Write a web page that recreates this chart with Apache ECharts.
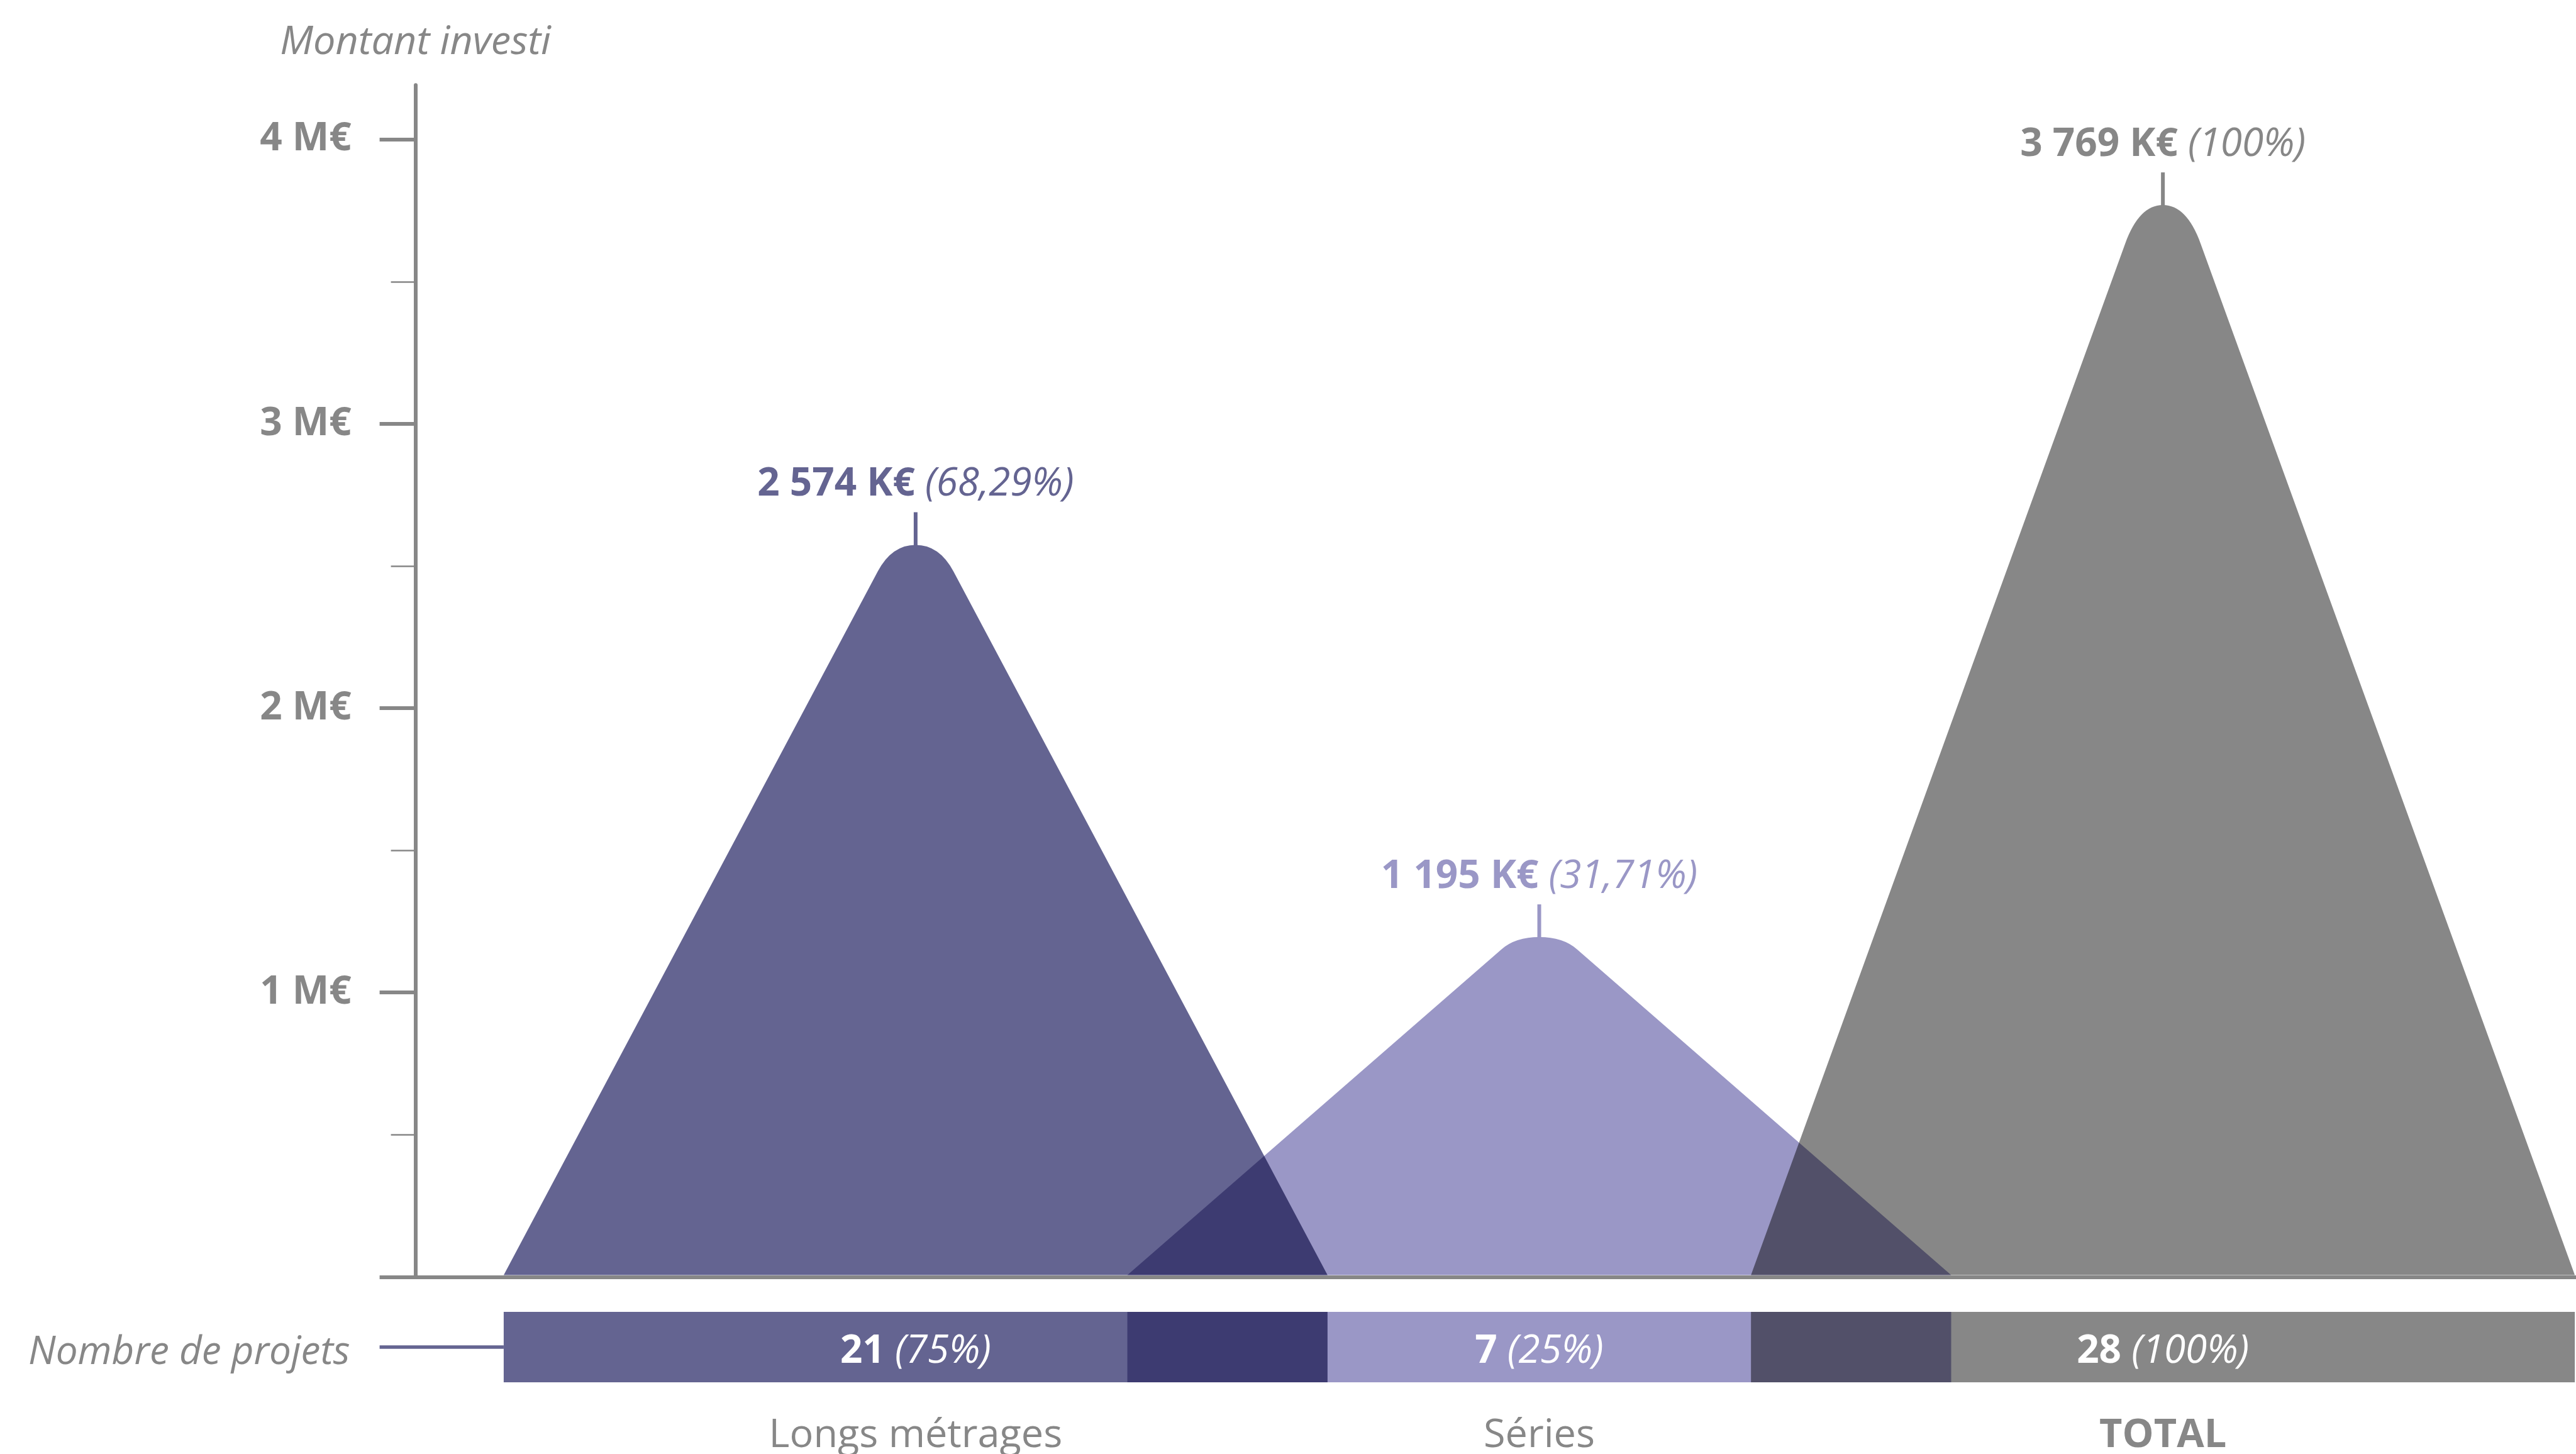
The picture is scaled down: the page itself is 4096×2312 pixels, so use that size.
<!DOCTYPE html>
<html>
<head>
<meta charset="utf-8">
<script src="https://cdn.jsdelivr.net/npm/echarts@6/dist/echarts.min.js"></script>
<style>
html, body { margin: 0; padding: 0; background: #ffffff; }
#chart { width: 4096px; height: 2312px; }
</style>
</head>
<body>
<div id="chart"></div>
<script>
// ---- data ----
const categories = ['Longs métrages', 'Séries', 'TOTAL'];
const amountsKEur = [2574, 1195, 3769];
const amountShares = ['68,29%', '31,71%', '100%'];
const projectCounts = [21, 7, 28];
const projectShares = ['75%', '25%', '100%'];
const yTickValues = [1000, 2000, 3000, 4000];
const yTickLabels = ['1 M€', '2 M€', '3 M€', '4 M€'];
const yMinorTickValues = [500, 1500, 2500, 3500];
const yAxisTitle = 'Montant investi';
const rowTitle = 'Nombre de projets';

// ---- style ----
const colors = ['#646491', '#9a97c6', '#878787'];
const GRAY = '#878787';
const FONT = 'Open Sans';
const FS = 62;
const HALF = 0.6605;       // half width of each mountain, in x-axis units

function fmtK(n) {
  return String(n).replace(/\B(?=(\d{3})+(?!\d))/g, ' ') + ' K€';
}

const chart = echarts.init(document.getElementById('chart'), null, { renderer: 'canvas' });

function renderItem(params, api) {
  const i = params.dataIndex;
  const xi = api.value(0);
  const v = api.value(1);
  const topPt = api.coord([xi, v]);
  const cx = topPt[0], yt = topPt[1];
  const y0 = api.coord([xi, 0])[1];
  const xl = api.coord([xi - HALF, 0])[0];
  const xr = api.coord([xi + HALF, 0])[0];
  const w = cx - xl;
  const h = 60;
  const k = 0.63 * h / w;
  const ya = (yt - k * y0) / (1 - k);
  const s = (y0 - ya) / w;
  const yb = y0 - 3;
  const yk = ya + h * s;
  const d = 'M' + xl + ',' + yb +
    ' L' + (cx - h) + ',' + yk +
    ' Q' + (cx - 0.63 * h) + ',' + yt + ' ' + cx + ',' + yt +
    ' Q' + (cx + 0.63 * h) + ',' + yt + ' ' + (cx + h) + ',' + yk +
    ' L' + xr + ',' + yb + ' Z';
  const color = colors[i];
  const barTop = y0 + 55.6, barH = 112, barMid = barTop + barH / 2;
  const children = [
    { type: 'path', name: 'mb', shape: { pathData: d }, style: { fill: color, blend: 'multiply' } },
    { type: 'rect', name: 'mb', shape: { x: xl, y: barTop, width: xr - xl, height: barH }, style: { fill: color, blend: 'multiply' } },
    { type: 'line', shape: { x1: cx, y1: yt + 1, x2: cx, y2: yt - 52 }, style: { stroke: color, lineWidth: 6 } },
    {
      type: 'text', z2: 10,
      style: {
        text: '{b|' + fmtK(v) + '} {i|(' + amountShares[i] + ')}',
        x: cx, y: yt - 96, align: 'center', verticalAlign: 'middle',
        fill: color, fontFamily: FONT, fontSize: FS,
        rich: {
          b: { fontFamily: FONT, fontSize: FS, fontWeight: 'bold', fill: color, lineHeight: FS },
          i: { fontFamily: FONT, fontSize: FS, fontStyle: 'italic', fill: color, lineHeight: FS }
        }
      }
    },
    {
      type: 'text', z2: 10,
      style: {
        text: '{b|' + projectCounts[i] + '} {i|(' + projectShares[i] + ')}',
        x: cx, y: barMid + 7, align: 'center', verticalAlign: 'middle',
        fill: '#ffffff', fontFamily: FONT, fontSize: FS,
        rich: {
          b: { fontFamily: FONT, fontSize: FS, fontWeight: 'bold', fill: '#ffffff', lineHeight: FS },
          i: { fontFamily: FONT, fontSize: FS, fontStyle: 'italic', fill: '#ffffff', lineHeight: FS }
        }
      }
    }
  ];
  if (i === 0) {
    const axisX = api.coord([-0.802, 0])[0];
    const lineStart = axisX - 57;
    children.push({ type: 'line', shape: { x1: lineStart, y1: barMid, x2: xl, y2: barMid },
      style: { stroke: colors[0], lineWidth: 5.5 } });
    children.push({ type: 'text', style: {
      text: rowTitle, x: lineStart - 47, y: barMid + 9, align: 'right', verticalAlign: 'middle',
      fill: GRAY, fontFamily: FONT, fontSize: FS, fontStyle: 'italic' } });
  }
  return { type: 'group', children: children };
}

const option = {
  backgroundColor: '#ffffff',
  animation: false,
  grid: { left: 660.6, right: 0, top: 135.3, bottom: 281.6, containLabel: false, outerBoundsMode: 'none' },
  xAxis: {
    type: 'value', min: -0.802, max: 2.6624,
    axisLine: { show: true, onZero: false, lineStyle: { color: GRAY, width: 6 } },
    axisTick: { show: false },
    splitLine: { show: false },
    axisLabel: {
      show: true, customValues: [0, 1, 2], margin: 221,
      color: GRAY, fontFamily: FONT, fontSize: 63,
      formatter: function (val) {
        const idx = Math.round(val);
        return idx === categories.length - 1 ? '{t|' + categories[idx] + '}' : categories[idx];
      },
      rich: { t: { fontFamily: FONT, fontSize: 63, fontWeight: 'bold', color: GRAY } }
    }
  },
  yAxis: [
    {
      type: 'value', min: 0, max: 4191, interval: 1000, position: 'left',
      name: yAxisTitle, nameLocation: 'end', nameGap: 36,
      nameTextStyle: { color: GRAY, fontFamily: FONT, fontSize: 63, fontStyle: 'italic' },
      axisLine: { show: true, onZero: false, lineStyle: { color: GRAY, width: 6 } },
      axisTick: { show: true, length: 57, customValues: [0].concat(yTickValues), lineStyle: { color: GRAY, width: 6 } },
      axisLabel: {
        show: true, customValues: yTickValues, margin: 102,
        color: GRAY, fontFamily: FONT, fontSize: FS, fontWeight: 'bold',
        formatter: function (val) { return yTickLabels[yTickValues.indexOf(val)] || ''; }
      },
      splitLine: { show: false }
    },
    {
      type: 'value', min: 0, max: 4191, interval: 1000, position: 'left',
      axisLine: { show: false, onZero: false },
      axisTick: { show: true, length: 39, customValues: yMinorTickValues, lineStyle: { color: GRAY, width: 2.5 } },
      axisLabel: { show: false },
      splitLine: { show: false }
    }
  ],
  series: [{
    type: 'custom', silent: true, clip: false,
    renderItem: renderItem,
    data: categories.map(function (c, i) { return [i, amountsKEur[i]]; })
  }]
};
chart.setOption(option);

// multiply blending of the overlapping shapes (as in the reference)
(function applyBlend() {
  const zr = chart.getZr();
  zr.storage.getDisplayList(true).forEach(function (el) {
    if (el.name === 'mb') {
      el.style.blend = 'multiply';
      if (el.markRedraw) el.markRedraw();
    }
  });
  zr.refreshImmediately();
})();
</script>
</body>
</html>
